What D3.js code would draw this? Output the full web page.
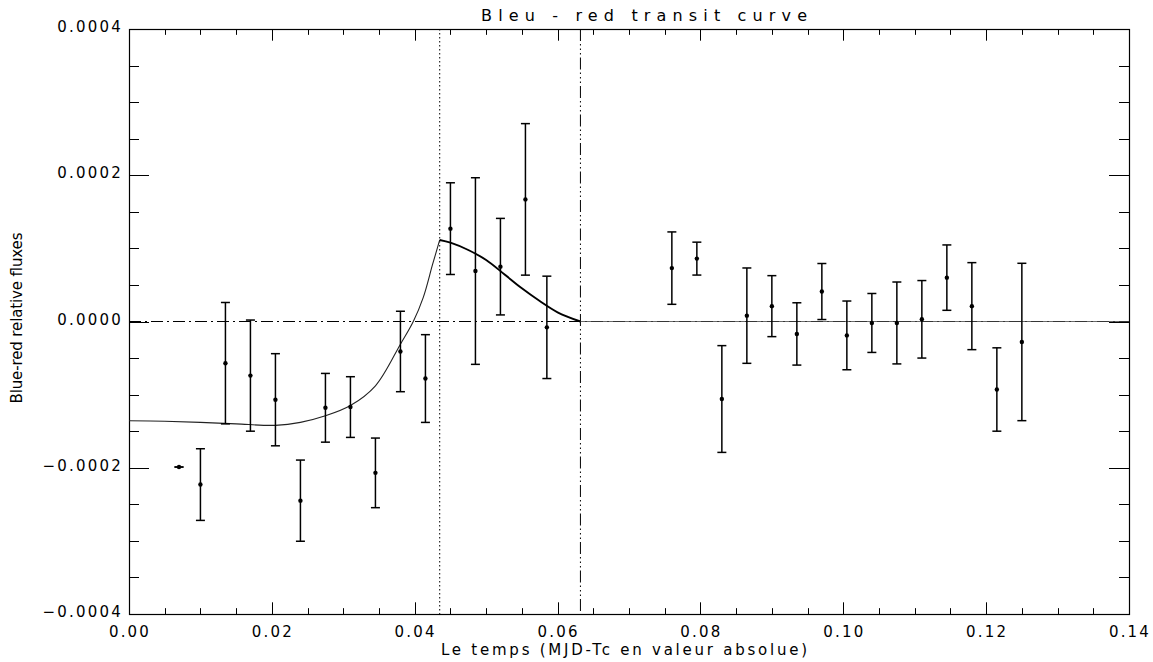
<!DOCTYPE html>
<html>
<head>
<meta charset="utf-8">
<script src="https://cdn.jsdelivr.net/npm/d3@7"></script>
<style>
  body { margin: 0; background: #fff; overflow: hidden; }
  svg { display: block; }
  text { font-family: "DejaVu Sans", sans-serif; fill: #000; }
</style>
</head>
<body>
<svg id="chart"></svg>
<script>
/* data: time (MJD-Tc) and blue-red flux */
var times = [0.0070, 0.0100, 0.0135, 0.0170, 0.0205, 0.0240, 0.0275, 0.0310, 0.0345, 0.0380, 0.0415,
             0.0450, 0.0485, 0.0520, 0.0555, 0.0585,
             0.0760, 0.0795, 0.0830, 0.0865, 0.0900, 0.0935, 0.0970, 0.1005, 0.1040, 0.1075, 0.1110,
             0.1145, 0.1180, 0.1215, 0.1250];
var fluxes = [-1.99e-4, -2.23e-4, -0.57e-4, -0.74e-4, -1.07e-4, -2.45e-4, -1.18e-4, -1.17e-4, -2.07e-4, -0.41e-4, -0.78e-4,
              1.27e-4, 0.69e-4, 0.75e-4, 1.67e-4, -0.08e-4,
              0.73e-4, 0.86e-4, -1.06e-4, 0.08e-4, 0.21e-4, -0.17e-4, 0.41e-4, -0.19e-4, -0.02e-4, -0.02e-4, 0.03e-4,
              0.60e-4, 0.21e-4, -0.93e-4, -0.28e-4];
var errors = [0, 0.49e-4, 0.83e-4, 0.76e-4, 0.63e-4, 0.555e-4, 0.47e-4, 0.415e-4, 0.476e-4, 0.55e-4, 0.60e-4,
              0.627e-4, 1.276e-4, 0.66e-4, 1.036e-4, 0.70e-4,
              0.495e-4, 0.225e-4, 0.73e-4, 0.652e-4, 0.417e-4, 0.426e-4, 0.383e-4, 0.47e-4, 0.403e-4, 0.56e-4, 0.53e-4,
              0.447e-4, 0.595e-4, 0.57e-4, 1.076e-4];

/* model curve, in three pieces (rise, fall, flat) */
var riseTime = [0, 0.005, 0.010, 0.015, 0.0205, 0.024, 0.0275, 0.031, 0.0345, 0.038, 0.0398, 0.0412, 0.0425, 0.0435];
var riseFlux = [-1.357e-4, -1.365e-4, -1.38e-4, -1.40e-4, -1.42e-4, -1.38e-4, -1.29e-4, -1.15e-4, -0.88e-4, -0.31e-4,
                0, 0.33e-4, 0.78e-4, 1.115e-4];
var fallTime = [0.0435, 0.045, 0.0475, 0.050, 0.0525, 0.055, 0.0575, 0.060, 0.0632];
var fallFlux = [1.115e-4, 1.078e-4, 0.978e-4, 0.841e-4, 0.65e-4, 0.454e-4, 0.28e-4, 0.126e-4, 0];
var flatTime = [0.0632, 0.14];
var flatFlux = [0, 0];

var ingress = 0.0435,   // dotted marker
    midTransit = 0.0632; // dash-dot marker

var xTicks = [0, 0.02, 0.04, 0.06, 0.08, 0.10, 0.12, 0.14];
var yTicks = [-0.0004, -0.0002, 0, 0.0002, 0.0004];

/* settings */
var width = 1153, height = 662,
    margin = { top: 29, left: 129, right: 24, bottom: 48 },
    innerWidth = width - margin.left - margin.right,
    innerHeight = height - margin.top - margin.bottom;

var svg = d3.select("#chart").attr("width", width).attr("height", height);
var g = svg.append("g").attr("transform", "translate(" + margin.left + "," + margin.top + ")");

var xScale = d3.scaleLinear().domain([0, 0.14]).range([0, innerWidth]);
var yScale = d3.scaleLinear().domain([-0.0004, 0.0004]).range([innerHeight, 0]);

/* ticks: IDL style, on all four sides */
var xLen = innerHeight * 0.02, yLen = innerWidth * 0.02;
var xMinor = d3.range(0, 0.1401, 0.005), yMinor = d3.range(-0.0004, 0.00040001, 0.00005);

function isMajor(v, step) { return Math.abs(v / step - Math.round(v / step)) < 1e-6; }

var ticks = g.append("g").attr("stroke", "#000").attr("stroke-width", 1);
xMinor.forEach(function(v) {
  var len = isMajor(v, 0.02) ? xLen : xLen / 2, px = Math.round(xScale(v)) + 0.5;
  ticks.append("line").attr("x1", px).attr("x2", px).attr("y1", innerHeight).attr("y2", innerHeight - len);
  ticks.append("line").attr("x1", px).attr("x2", px).attr("y1", 0).attr("y2", len);
});
yMinor.forEach(function(v) {
  var len = isMajor(v, 0.0002) ? yLen : yLen / 2, py = Math.round(yScale(v)) + 0.5;
  ticks.append("line").attr("x1", 0).attr("x2", len).attr("y1", py).attr("y2", py);
  ticks.append("line").attr("x1", innerWidth).attr("x2", innerWidth - len).attr("y1", py).attr("y2", py);
});

g.append("rect")
  .attr("x", 0.5).attr("y", 0.5)
  .attr("width", innerWidth).attr("height", innerHeight)
  .attr("fill", "none").attr("stroke", "#000").attr("stroke-width", 1.2);

/* tick labels */
g.selectAll(".xlab").data(xTicks).enter().append("text")
  .attr("class", "xlab")
  .attr("x", function(d) { return xScale(d) + 1; })
  .attr("y", innerHeight + 23)
  .attr("text-anchor", "middle")
  .style("font-size", "15px").style("letter-spacing", "2.2px")
  .text(d3.format(".2f"));

g.selectAll(".ylab").data(yTicks).enter().append("text")
  .attr("class", "ylab")
  .attr("x", -6)
  .attr("y", function(d) { return yScale(d) + 3; })
  .attr("text-anchor", "end")
  .style("font-size", "15px").style("letter-spacing", "2.2px")
  .text(function(d) { return d3.format(".4f")(d).replace("-", "\u2212"); });

/* reference lines */
g.append("line")
  .attr("x1", 0).attr("x2", innerWidth)
  .attr("y1", yScale(0)).attr("y2", yScale(0))
  .attr("stroke", "#000").attr("stroke-width", 1)
  .attr("stroke-dasharray", "12,4,2,4");

g.append("line")
  .attr("x1", xScale(ingress)).attr("x2", xScale(ingress))
  .attr("y1", 0).attr("y2", innerHeight)
  .attr("stroke", "#000").attr("stroke-width", 1)
  .attr("stroke-dasharray", "1.5,2.5");

g.append("line")
  .attr("x1", xScale(midTransit)).attr("x2", xScale(midTransit))
  .attr("y1", 0).attr("y2", innerHeight)
  .attr("stroke", "#000").attr("stroke-width", 1)
  .attr("stroke-dasharray", "12,3,1.5,3,1.5,3,1.5,3");

/* model */
var line = d3.line()
  .x(function(d) { return xScale(d[0]); })
  .y(function(d) { return yScale(d[1]); })
  .curve(d3.curveCatmullRom.alpha(0.5));

g.append("path").datum(d3.zip(riseTime, riseFlux))
  .attr("d", line).attr("fill", "none").attr("stroke", "#222").attr("stroke-width", 1.1);
g.append("path").datum(d3.zip(fallTime, fallFlux))
  .attr("d", line).attr("fill", "none").attr("stroke", "#000").attr("stroke-width", 1.9);
g.append("path").datum(d3.zip(flatTime, flatFlux))
  .attr("d", line).attr("fill", "none").attr("stroke", "#444").attr("stroke-width", 0.8);

/* data points with error bars */
var points = d3.range(times.length).map(function(i) {
  return { t: times[i], f: fluxes[i], e: errors[i] };
});
var cap = 4.5;
var pts = g.append("g").selectAll("g").data(points).enter().append("g")
  .attr("stroke", "#000").attr("stroke-width", 1.5);

pts.append("line")
  .attr("x1", function(d) { return xScale(d.t); }).attr("x2", function(d) { return xScale(d.t); })
  .attr("y1", function(d) { return yScale(d.f + d.e); }).attr("y2", function(d) { return yScale(d.f - d.e); });
pts.append("line")
  .attr("x1", function(d) { return xScale(d.t) - cap; }).attr("x2", function(d) { return xScale(d.t) + cap; })
  .attr("y1", function(d) { return yScale(d.f + d.e); }).attr("y2", function(d) { return yScale(d.f + d.e); });
pts.append("line")
  .attr("x1", function(d) { return xScale(d.t) - cap; }).attr("x2", function(d) { return xScale(d.t) + cap; })
  .attr("y1", function(d) { return yScale(d.f - d.e); }).attr("y2", function(d) { return yScale(d.f - d.e); });
pts.append("circle")
  .attr("cx", function(d) { return xScale(d.t); })
  .attr("cy", function(d) { return yScale(d.f); })
  .attr("r", 2.2).attr("fill", "#000").attr("stroke", "none");

/* titles */
svg.append("text")
  .attr("x", 644).attr("y", 21)
  .attr("text-anchor", "middle")
  .attr("textLength", 326).attr("lengthAdjust", "spacing")
  .style("font-size", "16px")
  .text("Bleu - red transit curve");

svg.append("text")
  .attr("x", 624).attr("y", 655)
  .attr("text-anchor", "middle")
  .attr("textLength", 366).attr("lengthAdjust", "spacing")
  .style("font-size", "15px")
  .text("Le temps (MJD-Tc en valeur absolue)");

svg.append("text")
  .attr("transform", "translate(22,318) rotate(-90)")
  .attr("text-anchor", "middle")
  .attr("textLength", 171).attr("lengthAdjust", "spacing")
  .style("font-size", "15px")
  .text("Blue-red relative fluxes");
</script>
</body>
</html>
